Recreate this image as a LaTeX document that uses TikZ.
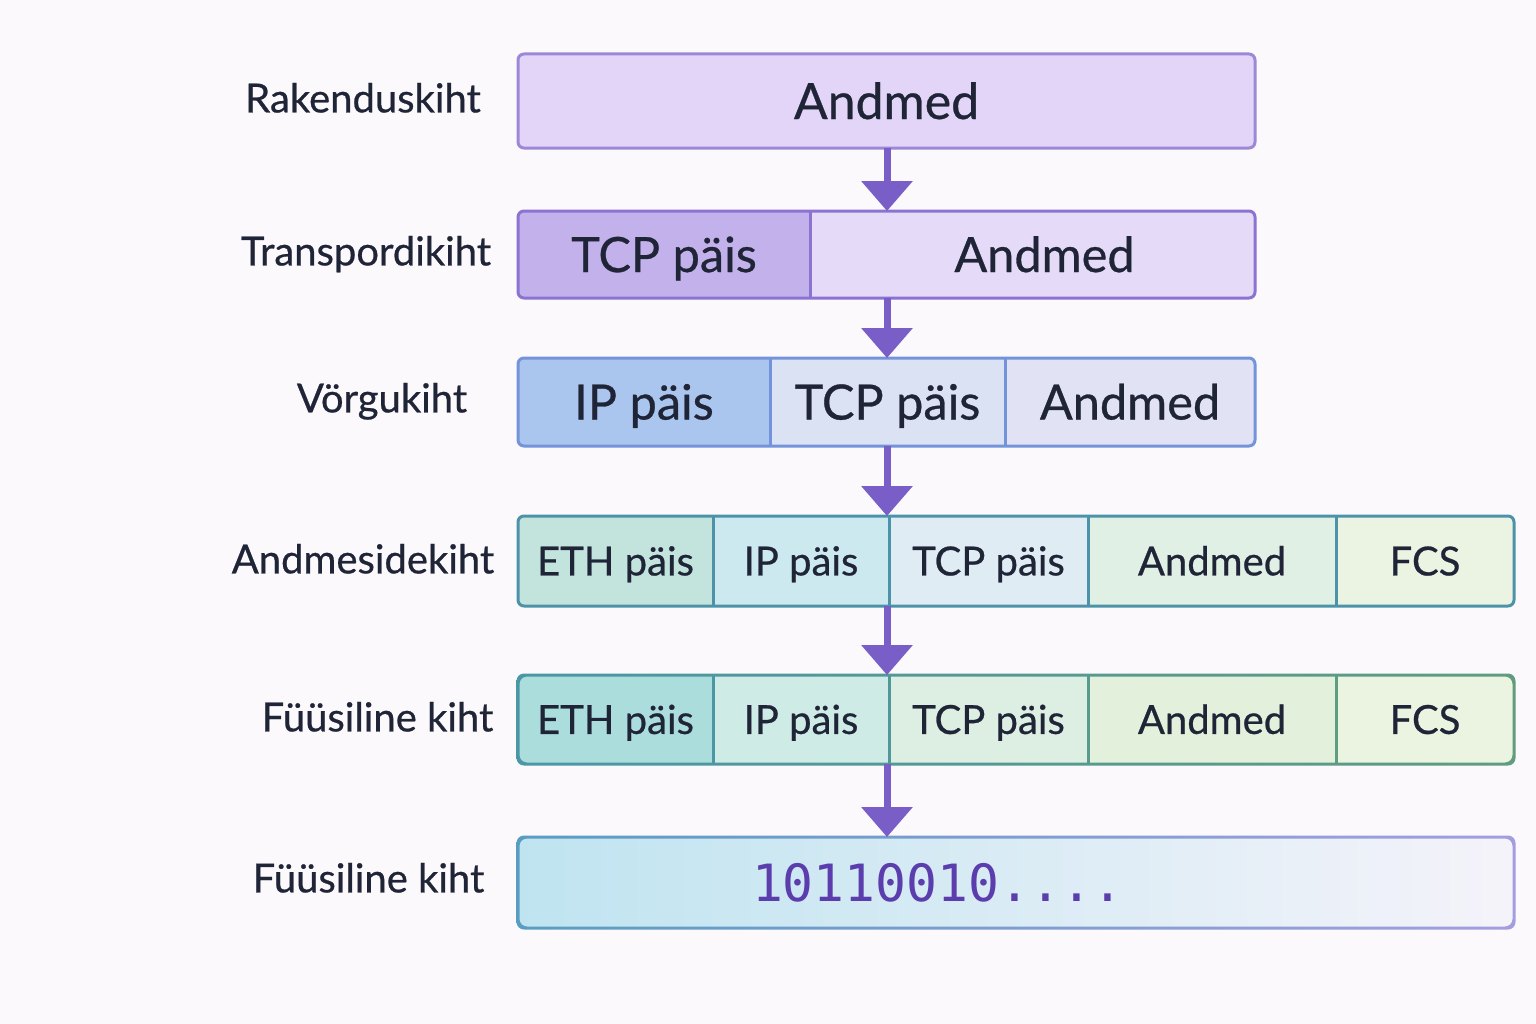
\documentclass[tikz,border=0pt]{standalone}
\usepackage{fontspec}
\setmainfont{Lato}[FakeBold=0.6]
\newfontfamily\bitfont{DejaVu Sans Mono}
\usetikzlibrary{arrows.meta}

\definecolor{bgc}{HTML}{FBF9FC}
\definecolor{ink}{HTML}{1F2437}
\definecolor{arr}{HTML}{7A5EC8}
\definecolor{bitc}{HTML}{5B3DAE}
% row colours
\definecolor{aOne}{HTML}{E2D5F7}
\definecolor{lOne}{HTML}{9D88D8}
\definecolor{tcpTwo}{HTML}{C3B1EC}
\definecolor{datTwo}{HTML}{E5DAF8}
\definecolor{lTwo}{HTML}{8C73D2}
\definecolor{ipThree}{HTML}{ABC6EE}
\definecolor{tcpThree}{HTML}{DBE2F4}
\definecolor{datThree}{HTML}{E1E2F3}
\definecolor{lThree}{HTML}{7393DA}
\definecolor{ethFour}{HTML}{C3E4DD}
\definecolor{ipFour}{HTML}{CBE9EF}
\definecolor{tcpFour}{HTML}{DFECF3}
\definecolor{datFour}{HTML}{E1F0E5}
\definecolor{fcsFour}{HTML}{EBF4E3}
\definecolor{lFour}{HTML}{4C93A9}
\definecolor{ethFive}{HTML}{ACDDDD}
\definecolor{ipFive}{HTML}{CFEBE6}
\definecolor{tcpFive}{HTML}{DDEFE3}
\definecolor{datFive}{HTML}{E3F1DC}
\definecolor{fcsFive}{HTML}{EAF4E1}
\definecolor{lFiveL}{HTML}{4A97A6}
\definecolor{lFiveR}{HTML}{609C7E}
\definecolor{fSixL}{HTML}{BFE4F0}
\definecolor{fSixR}{HTML}{F5F3FA}
\definecolor{lSixL}{HTML}{5A9DC2}
\definecolor{lSixR}{HTML}{A39EE0}

\tikzset{
  cell/.style={inner sep=0pt, outer sep=0pt, text=ink},
  bigtxt/.style={font=\fontsize{37.5}{42}\selectfont, text height=27pt, text depth=0pt},
  midtxt/.style={font=\fontsize{36.5}{42}\selectfont, text height=26.3pt, text depth=0pt},
  smalltxt/.style={font=\fontsize{30}{36}\selectfont, text height=21.6pt, text depth=0pt},
  layer/.style={text=ink, font=\fontsize{30}{36}\selectfont, text height=21.6pt, text depth=0pt, inner sep=0pt},
  frame/.style={line width=2.25pt, rounded corners=4.5pt},
  sep/.style={line width=2.25pt},
  flow/.style={draw=arr, line width=5.25pt, -{Triangle[length=22.5pt,width=37.5pt]}}
}

\begin{document}
\begin{tikzpicture}[x=0.75pt,y=0.75pt,yscale=-1,xscale=1]
\useasboundingbox[fill=bgc] (0,0) rectangle (1536,1024);

% Layer names
\node[layer] (n1) at (363,98) {Rakenduskiht};
\node[layer] (n2) at (366,251) {Transpordikiht};
\node[layer] (n3) at (382,398) {Vörgukiht};
\node[layer] (n4) at (363,559) {Andmesidekiht};
\node[layer] (n5) at (377.5,717) {Füüsiline kiht};
\node[layer] (n6) at (368.5,878) {Füüsiline kiht};

% Row 1
\begin{scope}
\clip[rounded corners=4.5pt] (518,54) rectangle (1255,148);
\node[cell, bigtxt, fill=aOne, minimum width=737*0.75pt, minimum height=94*0.75pt] (r1) at (886.5,101) {Andmed};
\end{scope}
\draw[frame, draw=lOne] (518,54) rectangle (1255,148);

% Row 2
\begin{scope}[every node/.style={cell, midtxt, minimum height=87*0.75pt}]
\clip[rounded corners=4.5pt] (518,211) rectangle (1255,298);
\node[fill=tcpTwo, minimum width=292*0.75pt] (t1) at (664,254.5) {TCP päis};
\node[fill=datTwo, minimum width=445*0.75pt] (t2) at (1032.5,254.5) {\hspace{18pt}Andmed};
\end{scope}
\draw[sep, lTwo] (t1.north east) -- (t1.south east);
\draw[frame, draw=lTwo] (518,211) rectangle (1255,298);

% Row 3
\begin{scope}[every node/.style={cell, midtxt, minimum height=88*0.75pt}]
\clip[rounded corners=4.5pt] (518,358) rectangle (1255,446);
\node[fill=ipThree, minimum width=252*0.75pt] (v1) at (644,402) {IP päis};
\node[fill=tcpThree, minimum width=235*0.75pt] (v2) at (887.5,402) {TCP päis};
\node[fill=datThree, minimum width=250*0.75pt] (v3) at (1130,402) {Andmed};
\end{scope}
\draw[sep, lThree] (v1.north east) -- (v1.south east);
\draw[sep, lThree] (v2.north east) -- (v2.south east);
\draw[frame, draw=lThree] (518,358) rectangle (1255,446);

% Row 4
\begin{scope}[every node/.style={cell, smalltxt, minimum height=90*0.75pt}]
\clip[rounded corners=4.5pt] (518,516) rectangle (1514,606);
\node[fill=ethFour, minimum width=195*0.75pt] (l1) at (615.5,561) {ETH päis};
\node[fill=ipFour, minimum width=176*0.75pt] (l2) at (801,561) {IP päis};
\node[fill=tcpFour, minimum width=199*0.75pt] (l3) at (988.5,561) {TCP päis};
\node[fill=datFour, minimum width=248*0.75pt] (l4) at (1212,561) {Andmed};
\node[fill=fcsFour, minimum width=178*0.75pt] (l5) at (1425,561) {FCS};
\end{scope}
\foreach \c in {l1,l2,l3,l4}
  \draw[sep, lFour] (\c.north east) -- (\c.south east);
\draw[frame, draw=lFour] (518,516) rectangle (1514,606);

% Row 5
\begin{scope}[every node/.style={cell, smalltxt, minimum height=89*0.75pt}]
\clip[rounded corners=4.5pt] (518,675) rectangle (1514,764);
\node[fill=ethFive, minimum width=195*0.75pt] (p1) at (615.5,719.5) {ETH päis};
\node[fill=ipFive, minimum width=176*0.75pt] (p2) at (801,719.5) {IP päis};
\node[fill=tcpFive, minimum width=199*0.75pt] (p3) at (988.5,719.5) {TCP päis};
\node[fill=datFive, minimum width=248*0.75pt] (p4) at (1212,719.5) {Andmed};
\node[fill=fcsFive, minimum width=178*0.75pt] (p5) at (1425,719.5) {FCS};
\end{scope}
\draw[sep, lFiveL] (p1.north east) -- (p1.south east);
\draw[sep, lFiveL!70!lFiveR] (p2.north east) -- (p2.south east);
\draw[sep, lFiveL!35!lFiveR] (p3.north east) -- (p3.south east);
\draw[sep, lFiveR] (p4.north east) -- (p4.south east);
\shade[left color=lFiveL, right color=lFiveR, even odd rule, rounded corners=5.6pt]
  (516.5,673.5) rectangle (1515.5,765.5) (519.5,676.5) rectangle (1512.5,762.5);

% Row 6
\node[cell, left color=fSixL, right color=fSixR, rounded corners=4.5pt, minimum width=996*0.75pt, minimum height=91*0.75pt] (r6) at (1016,882.5) {};
\shade[left color=lSixL, right color=lSixR, even odd rule, rounded corners=5.6pt]
  (516.5,835.5) rectangle (1515.5,929.5) (519.5,838.5) rectangle (1512.5,926.5);
\node[cell, text=bitc, font=\bitfont\fontsize{38.5}{44}\selectfont, text height=28pt, text depth=0pt] (bits) at (937.5,882.5) {10110010....};

% Encapsulation arrows
\coordinate (ax) at (887,0);
\draw[flow] (r1.south -| ax) -- (t2.north -| ax);
\draw[flow] (t2.south -| ax) -- (v2.north -| ax);
\draw[flow] (v2.south -| ax) -- (l2.north -| ax);
\draw[flow] (l2.south -| ax) -- (p2.north -| ax);
\draw[flow] (p2.south -| ax) -- (r6.north -| ax);

\end{tikzpicture}
\end{document}
